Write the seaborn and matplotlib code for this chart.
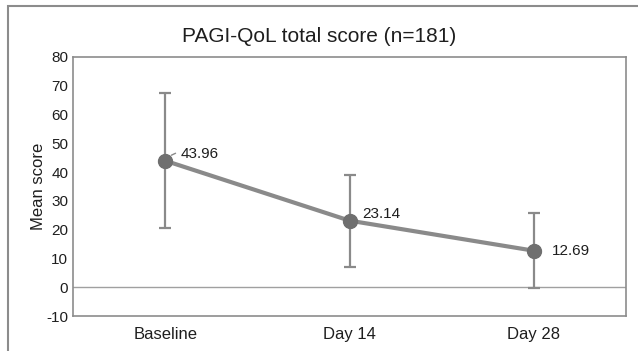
import matplotlib
matplotlib.use("Agg")
import matplotlib.pyplot as plt
import matplotlib.patches as mpatches
import seaborn as sns
import pandas as pd

# values
visits = ["Baseline", "Day 14", "Day 28"]
mean_score = [43.96, 23.14, 12.69]
sd_score = [23.4, 16.0, 13.0]
value_labels = ["43.96", "23.14", "12.69"]
y_ticks = [-10, 0, 10, 20, 30, 40, 50, 60, 70, 80]

df = pd.DataFrame({"visit": visits, "mean": mean_score, "sd": sd_score})

sns.set_theme(style="white")
plt.rcParams["font.family"] = ["Liberation Sans", "DejaVu Sans"]
plt.rcParams["axes.unicode_minus"] = False

fig = plt.figure(figsize=(6.38, 3.51), dpi=100)
ax = fig.add_axes([73 / 638, 1 - 316 / 351, (626 - 73) / 638, (316 - 57) / 351])

line_grey = "#8a8a8a"
dot_grey = "#6f6f6f"
txt = "#1e1e1e"

ax.axhline(0, color="#a0a0a0", lw=1.0, zorder=1)
ax.errorbar(range(len(visits)), df["mean"], yerr=df["sd"], fmt="none",
            ecolor=line_grey, elinewidth=1.6, capsize=4, capthick=1.6, zorder=2)
sns.pointplot(data=df, x="visit", y="mean", errorbar=None, color=line_grey,
              markers="o", markersize=8, linewidth=3, ax=ax, zorder=3)
# darker dots on top
ax.plot(range(len(visits)), df["mean"], "o", ms=10, color=dot_grey, zorder=4)

offsets = [(11, 5), (9, 5), (13, 0)]
for i, (m, lab) in enumerate(zip(mean_score, value_labels)):
    ax.annotate(lab, (i, m), xytext=offsets[i], textcoords="offset points",
                ha="left", va="center", fontsize=11, color=txt)
# small leader line at baseline label
ax.annotate("", (0.02, mean_score[0] + 1.5), xytext=(0.07, mean_score[0] + 3.0),
            arrowprops=dict(arrowstyle="-", color=line_grey, lw=1))

ax.set_ylim(-10, 80)
ax.set_yticks(y_ticks)
ax.set_xlim(-0.5, len(visits) - 0.5)
ax.set_xlabel("")
ax.set_ylabel("Mean score", fontsize=12, color=txt, labelpad=0)
ax.tick_params(axis="both", length=0, labelsize=11, colors=txt)
ax.tick_params(axis="x", pad=8, labelsize=12)
for sp in ax.spines.values():
    sp.set_color("#8c8c8c")
    sp.set_linewidth(1.2)

fig.text(0.5, 1 - 37 / 351, "PAGI-QoL total score (n=181)", ha="center",
         va="center", fontsize=15, color=txt)

frame = mpatches.Rectangle((8 / 638, -0.1), 1.2, 1 - 6 / 351 + 0.1,
                           transform=fig.transFigure, fill=False,
                           edgecolor="#8c8c8c", lw=1.5)
fig.patches.append(frame)

fig.savefig("out.png", dpi=100)
